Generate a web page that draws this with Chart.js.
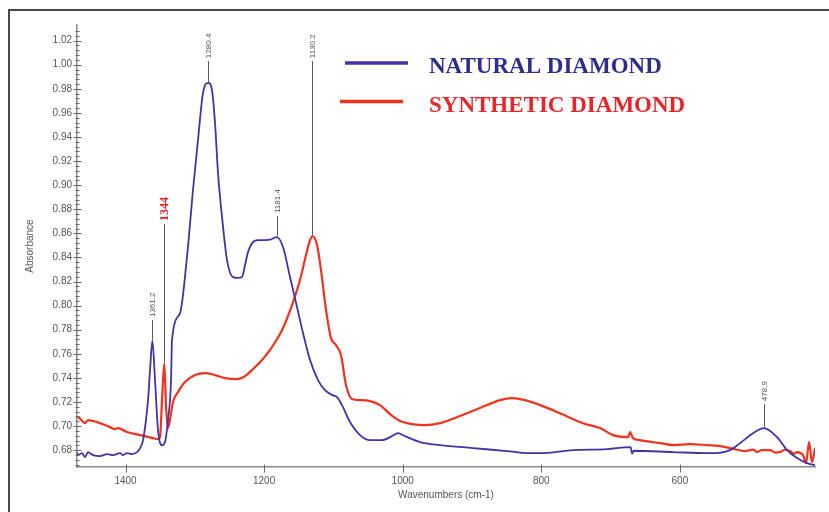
<!DOCTYPE html>
<html>
<head>
<meta charset="utf-8">
<script src="https://cdn.jsdelivr.net/npm/chart.js@4/dist/chart.umd.min.js"></script>
<style>
  html, body { margin: 0; padding: 0; background: #fff; }
  #wrap { position: relative; width: 829px; height: 512px; }
  #frame { position: absolute; left: 8px; top: 9px; right: -4px; bottom: -4px;
           border-left: 2px solid #4a4a4a; border-top: 2px solid #4a4a4a; }
  canvas { position: absolute; left: 0; top: 0; }
</style>
</head>
<body>
<div id="wrap">
  <canvas id="c" width="829" height="512"></canvas>
  <div id="frame"></div>
</div>
<script>
// FTIR absorbance spectra, wavenumbers in cm-1
const naturalWn = [1470, 1468.6, 1462.8, 1458.5, 1454.1, 1446.9, 1436.8, 1426.7, 1418.0, 1407.9,
  1403.6, 1397.8, 1390.6, 1383.4, 1379.0, 1374.7, 1367.5, 1364.6, 1361.2, 1357.4,
  1353.1, 1347.3, 1343.0, 1338.7, 1334.3, 1332.9, 1321.3, 1311.3, 1302.6, 1295.4,
  1288.2, 1280.4, 1275.2, 1270.8, 1266.5, 1260.7, 1253.5, 1244.9, 1237.6, 1231.9,
  1227.5, 1223.2, 1217.4, 1208.8, 1198.7, 1190.0, 1181.4, 1172.7, 1162.6, 1152.5,
  1143.8, 1133.7, 1122.2, 1112.1, 1101.5, 1094.8, 1087.6, 1076.0, 1061.6, 1047.1,
  1029.8, 1015.4, 1006.7, 996.6, 975.0, 946.1, 898.5, 849.4, 820.0, 801.8,
  754.2, 705.1, 671.0, 669.0, 666.5, 609.9, 560.8, 546.4, 527.6, 513.2,
  494.4, 478.9, 459.8, 445.3, 430.9, 416.5, 405];
const naturalAbs = [0.678, 0.6759, 0.6775, 0.6742, 0.6783, 0.6759, 0.6750, 0.6767, 0.6759, 0.6775,
  0.6759, 0.6775, 0.6767, 0.6783, 0.6817, 0.6883, 0.7215, 0.7465, 0.7710, 0.738,
  0.6966, 0.684, 0.6867, 0.705, 0.738, 0.7714, 0.7938, 0.8403, 0.896, 0.9375,
  0.9765, 0.985, 0.979, 0.9516, 0.910, 0.8735, 0.8378, 0.8237, 0.823, 0.8237,
  0.8337, 0.8445, 0.8519, 0.8544, 0.8544, 0.8550, 0.8569, 0.8486, 0.8237, 0.7988,
  0.7772, 0.7548, 0.7382, 0.7298, 0.7257, 0.724, 0.7174, 0.7033, 0.6925, 0.6883,
  0.6883, 0.6916, 0.6941, 0.6916, 0.6867, 0.6842, 0.6817, 0.6792, 0.6775, 0.6775,
  0.680, 0.6808, 0.6825, 0.6770, 0.6795, 0.6784, 0.6775, 0.6775, 0.680, 0.6858,
  0.6941, 0.6983, 0.6908, 0.680, 0.6734, 0.6692, 0.6675];

const syntheticWn = [1470, 1468.6, 1458.5, 1454.1, 1441.1, 1422.4, 1415.2, 1410.8, 1397.8, 1379.0,
  1360.3, 1353.1, 1350.2, 1347.3, 1344, 1341.6, 1338.7, 1335.8, 1331.5, 1324.2,
  1314.1, 1299.7, 1285.3, 1270.8, 1256.4, 1239.1, 1227.5, 1217.4, 1203.0, 1188.6,
  1174.1, 1159.7, 1148.2, 1139.5, 1133.7, 1130.2, 1123.6, 1117.9, 1110.6, 1103.4,
  1096.2, 1089.0, 1081.8, 1073.1, 1061.6, 1047.1, 1032.7, 1018.3, 1003.8, 986.5,
  967.8, 946.1, 917.3, 888.4, 859.5, 842.2, 823.5, 801.8, 773.1, 739.8,
  715.2, 696.4, 674.8, 671.9, 667.6, 657.5, 628.6, 609.9, 585.3, 560.8,
  542.0, 527.6, 505.9, 494.0, 488.6, 482.0, 469.8, 462.0, 455.4, 448.0,
  441.0, 435.0, 430.9, 422.2, 417.9, 413.6, 409.3, 405];
const syntheticAbs = [0.7074, 0.7074, 0.7024, 0.7049, 0.7033, 0.6991, 0.6975, 0.6983, 0.695, 0.6925,
  0.690, 0.6891, 0.6908, 0.7215, 0.752, 0.7174, 0.6983, 0.705, 0.7199, 0.7282,
  0.7365, 0.7423, 0.744, 0.7423, 0.7398, 0.739, 0.7415, 0.7465, 0.7548, 0.7656,
  0.7797, 0.8005, 0.8212, 0.842, 0.8544, 0.8577, 0.8503, 0.8295, 0.7963, 0.773,
  0.7672, 0.7589, 0.734, 0.7224, 0.7215, 0.7207, 0.7174, 0.7099, 0.7041, 0.7016,
  0.7008, 0.7024, 0.7083, 0.715, 0.7215, 0.7232, 0.7215, 0.7174, 0.7107, 0.7024,
  0.6983, 0.6925, 0.6908, 0.695, 0.690, 0.6883, 0.6858, 0.6842, 0.685, 0.6842,
  0.6834, 0.6817, 0.6792, 0.6805, 0.6784, 0.6800, 0.680, 0.6780, 0.6784, 0.6805,
  0.6792, 0.6770, 0.6784, 0.6759, 0.6692, 0.6867, 0.670, 0.6817];

const xTicks = [1400, 1200, 1000, 800, 600];
const yTicks = [0.68, 0.70, 0.72, 0.74, 0.76, 0.78, 0.80, 0.82, 0.84, 0.86, 0.88, 0.90, 0.92, 0.94, 0.96, 0.98, 1.00, 1.02];

// peak markers: wavenumber, absorbance at the peak, label text, absorbance where the label starts
const peakWn = [1361.2, 1344, 1280.4, 1181.4, 1130.2, 478.9];
const peakAbs = [0.771, 0.752, 0.985, 0.857, 0.858, 0.698];
const peakText = ['1361.2', '1344', '1280.4', '1181.4', '1130.2', '478.9'];
const peakLabelAbs = [0.788, 0.8677, 1.003, 0.8744, 1.003, 0.7182];

const seriesNames = ['NATURAL DIAMOND', 'SYNTHETIC DIAMOND'];

const BLUE = '#4632a6';
const RED = '#f0321e';
const tickFont = { family: "'Liberation Sans Narrow', 'Arial Narrow', Arial, sans-serif", size: 10 };

const toPoints = (xs, ys) => xs.map((x, i) => ({ x, y: ys[i] }));

const decorations = {
  id: 'decorations',
  afterDraw(chart) {
    const { ctx, scales: { x, y }, chartArea } = chart;
    ctx.save();

    // minor and major ticks crossing the absorbance axis
    ctx.strokeStyle = '#6a6a6a';
    ctx.lineWidth = 1;
    const ax = Math.round(chartArea.left) + 0.5;
    for (let v = 0.668; v <= 1.032; v += 0.004) {
      const py = Math.round(y.getPixelForValue(v)) + 0.5;
      const major = yTicks.some(t => Math.abs(t - v) < 1e-6);
      const len = major ? 4 : 2;
      ctx.beginPath();
      ctx.moveTo(ax - len, py);
      ctx.lineTo(ax + len, py);
      ctx.stroke();
    }
    // ticks below the wavenumber axis
    const by = Math.round(chartArea.bottom) + 0.5;
    xTicks.forEach(t => {
      const px = Math.round(x.getPixelForValue(t)) + 0.5;
      ctx.beginPath();
      ctx.moveTo(px, by - 3);
      ctx.lineTo(px, by + 5);
      ctx.stroke();
    });

    // peak markers
    peakWn.forEach((wn, i) => {
      const px = Math.round(x.getPixelForValue(wn)) + 0.5;
      const pTop = y.getPixelForValue(peakLabelAbs[i]);
      const pPeak = y.getPixelForValue(peakAbs[i]);
      const isRed = peakText[i] === '1344';
      ctx.strokeStyle = '#555';
      ctx.lineWidth = 1;
      ctx.beginPath();
      ctx.moveTo(px, pPeak - 1);
      ctx.lineTo(px, pTop);
      ctx.stroke();
      ctx.save();
      ctx.translate(px, pTop - 3);
      ctx.rotate(-Math.PI / 2);
      ctx.textAlign = 'left';
      ctx.textBaseline = 'middle';
      if (isRed) {
        ctx.fillStyle = '#e52222';
        ctx.font = "bold 12px 'Liberation Serif', 'Times New Roman', serif";
      } else {
        ctx.fillStyle = '#555';
        ctx.font = "8px 'Liberation Sans Narrow', 'Arial Narrow', Arial, sans-serif";
      }
      ctx.fillText(peakText[i], 0, 0);
      ctx.restore();
    });

    // legend
    const legend = [
      { color: BLUE, text: '#2f2c8c', x0: 345, x1: 408, y: 63, base: 73 },
      { color: RED, text: '#e8262a', x0: 340, x1: 403, y: 101.5, base: 112 }
    ];
    legend.forEach((l, i) => {
      ctx.strokeStyle = l.color;
      ctx.lineWidth = 3.5;
      ctx.beginPath();
      ctx.moveTo(l.x0, l.y);
      ctx.lineTo(l.x1, l.y);
      ctx.stroke();
      ctx.fillStyle = l.text;
      ctx.font = "bold 23px 'Liberation Serif', 'Times New Roman', serif";
      ctx.textAlign = 'left';
      ctx.textBaseline = 'alphabetic';
      ctx.fillText(seriesNames[i], 429, l.base);
    });

    ctx.restore();
  }
};

new Chart(document.getElementById('c'), {
  type: 'line',
  data: {
    datasets: [
      { label: seriesNames[0], data: toPoints(naturalWn, naturalAbs), borderColor: BLUE,
        borderWidth: 1.8, pointRadius: 0, cubicInterpolationMode: 'monotone', fill: false },
      { label: seriesNames[1], data: toPoints(syntheticWn, syntheticAbs), borderColor: RED,
        borderWidth: 2.2, pointRadius: 0, cubicInterpolationMode: 'monotone', fill: false }
    ]
  },
  options: {
    responsive: false,
    animation: false,
    devicePixelRatio: 1,
    layout: { padding: { left: 20, top: 25, right: 14, bottom: 0 } },
    plugins: { legend: { display: false }, tooltip: { enabled: false } },
    scales: {
      x: {
        type: 'linear', reverse: true, min: 405, max: 1470,
        afterFit: s => { s.height = 45; },
        afterBuildTicks: s => { s.ticks = xTicks.map(v => ({ value: v })); },
        grid: { display: false, drawTicks: false },
        border: { display: true, color: '#8a8a8a', width: 1.5 },
        ticks: { font: tickFont, color: '#555', padding: 8, maxRotation: 0, callback: v => String(v) },
        title: { display: true, text: 'Wavenumbers (cm-1)', font: tickFont, color: '#555',
                 padding: { top: 0, bottom: 11 } }
      },
      y: {
        type: 'linear', min: 0.666, max: 1.033,
        afterFit: s => { s.width = 57; },
        afterBuildTicks: s => { s.ticks = yTicks.map(v => ({ value: v })); },
        grid: { display: false, drawTicks: false },
        border: { display: true, color: '#8a8a8a', width: 1.5 },
        ticks: { font: tickFont, color: '#555', padding: 5, callback: v => v.toFixed(2) },
        title: { display: true, text: 'Absorbance', font: tickFont, color: '#555',
                 padding: { top: 4, bottom: 0 } }
      }
    }
  },
  plugins: [decorations]
});
</script>
</body>
</html>
